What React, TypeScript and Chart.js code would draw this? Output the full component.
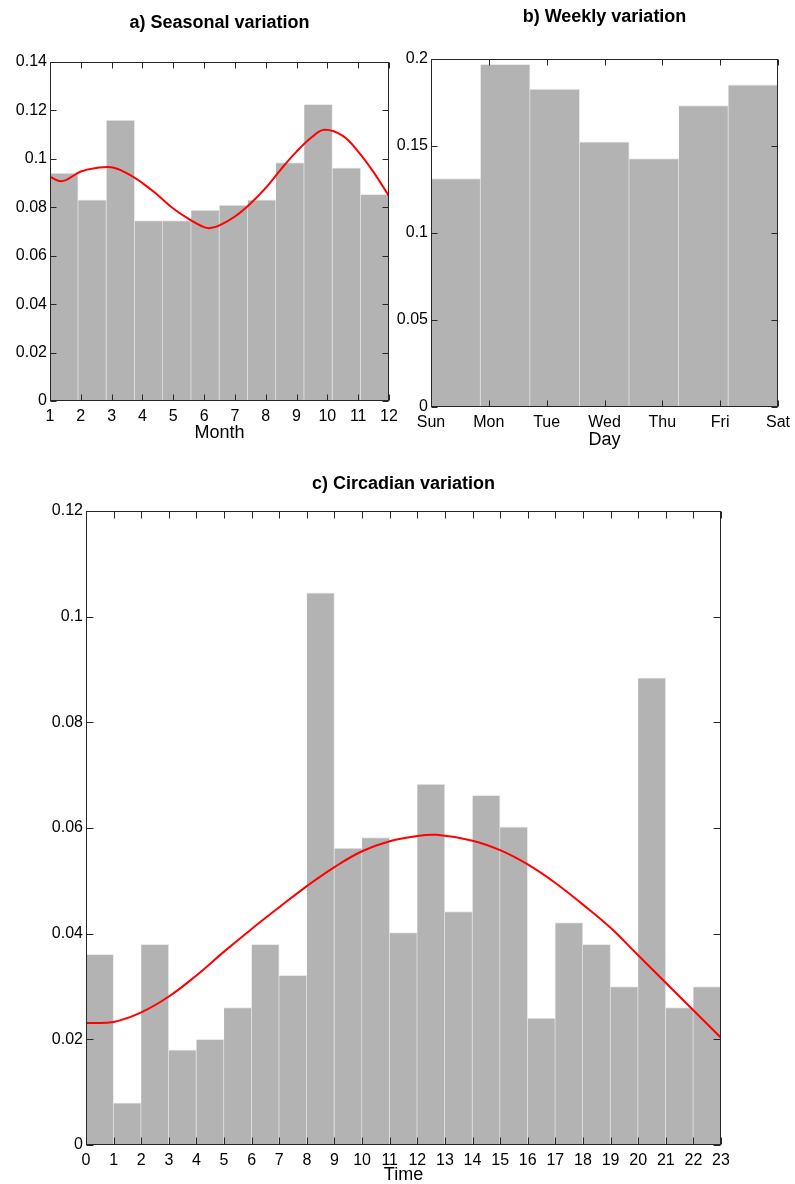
import React, { useEffect, useRef } from 'react';
import { Chart, registerables } from 'chart.js';

Chart.register(...registerables);
Chart.defaults.font.family = "'Liberation Sans', Arial, Helvetica, sans-serif";
Chart.defaults.color = '#000';

// ---------- Data ----------
// a) Seasonal variation: 12 monthly bins spread over the axis range 1..12
const monthRange = [1, 12];
const seasonalBins = [0.0941, 0.0831, 0.116, 0.0745, 0.0745, 0.0788, 0.0809, 0.0831, 0.0985, 0.1225, 0.0963, 0.0853];
const seasonalFitX = [1, 1.4, 2, 2.5, 3, 3.5, 4, 4.5, 5, 5.5, 6, 6.2, 6.5, 7, 7.5, 8, 8.5, 9, 9.5, 9.9, 10.5, 11, 11.5, 12];
const seasonalFitY = [0.0925, 0.0908, 0.0948, 0.0962, 0.0965, 0.094, 0.09, 0.085, 0.0795, 0.0752, 0.0718, 0.0714, 0.0725, 0.0762, 0.0815, 0.088, 0.0958, 0.103, 0.109, 0.112, 0.1095, 0.103, 0.0945, 0.0846];

// b) Weekly variation: 7 bins spread over the axis range 0..6
const dayLabels = ['Sun', 'Mon', 'Tue', 'Wed', 'Thu', 'Fri', 'Sat'];
const dayRange = [0, 6];
const weeklyBins = [0.1313, 0.1969, 0.1827, 0.1524, 0.1428, 0.1733, 0.1852];

// c) Circadian variation: 23 hourly bins over 0..23
const hourRange = [0, 23];
const circadianBins = [0.0361, 0.008, 0.038, 0.018, 0.02, 0.026, 0.038, 0.0321, 0.1045, 0.0562, 0.0582, 0.0402, 0.0683, 0.0442, 0.0662, 0.0602, 0.024, 0.0421, 0.038, 0.03, 0.0884, 0.026, 0.03];
const circadianFitX = [0, 1, 2, 3, 4, 5, 6, 7, 8, 9, 10, 11, 12, 12.7, 14, 15, 16, 17, 18, 19, 20, 21, 22, 23];
const circadianFitY = [0.0231, 0.0233, 0.0251, 0.0281, 0.0321, 0.0366, 0.0409, 0.045, 0.049, 0.0526, 0.0556, 0.0575, 0.0585, 0.0587, 0.0576, 0.0558, 0.0531, 0.0496, 0.0455, 0.0411, 0.0359, 0.0307, 0.0255, 0.0203];

// ---------- Helpers ----------
const binPoints = (vals: number[], range: number[]) => {
  const w = (range[1] - range[0]) / vals.length;
  return vals.map((v, i) => ({ x: range[0] + (i + 0.5) * w, y: v }));
};
const curvePoints = (xs: number[], ys: number[]) => xs.map((x, i) => ({ x, y: ys[i] }));
const fmt = (v: any) => String(parseFloat(Number(v).toFixed(4)));

const frame = {
  id: 'matlabFrame',
  afterDatasetsDraw(chart: any, _a: any, opts: any) {
    const { ctx, chartArea, scales } = chart;
    const L = Math.round(chartArea.left) + 0.5;
    const R = Math.round(chartArea.right) - 0.5;
    const T = Math.round(chartArea.top) + 0.5;
    const B = Math.round(chartArea.bottom) - 0.5;
    const len = opts.tickLen || 6;
    ctx.save();
    ctx.strokeStyle = '#262626';
    ctx.lineWidth = 1;
    ctx.beginPath();
    scales.x.ticks.forEach((t: any) => {
      const px = Math.round(scales.x.getPixelForValue(t.value)) + 0.5;
      ctx.moveTo(px, B); ctx.lineTo(px, B - len);
      ctx.moveTo(px, T); ctx.lineTo(px, T + len);
    });
    scales.y.ticks.forEach((t: any) => {
      const py = Math.round(scales.y.getPixelForValue(t.value)) + 0.5;
      ctx.moveTo(L, py); ctx.lineTo(L + len, py);
      ctx.moveTo(R, py); ctx.lineTo(R - len, py);
    });
    ctx.stroke();
    ctx.strokeRect(L, T, R - L, B - T);
    ctx.restore();
  },
};

type Panel = {
  title: string;
  bins: { x: number; y: number }[];
  curve?: { x: number; y: number }[];
  xRange: number[];
  yMax: number;
  yStep: number;
  xTitle: string;
  xLabel?: (v: number) => string;
  w: number; h: number;
  padRight: number;
  yWidth: number; xHeight: number;
  titleTop: number; titleBottom: number;
  xTitleBottom: number;
  tickLen: number;
};

function makeConfig(p: Panel): any {
  const datasets: any[] = [];
  if (p.curve) {
    datasets.push({
      type: 'line', data: p.curve, borderColor: '#ff0000', borderWidth: 2,
      pointRadius: 0, tension: 0.4, order: 0,
    });
  }
  datasets.push({
    type: 'bar', data: p.bins, backgroundColor: '#b3b3b3', borderColor: '#eaeaea',
    borderWidth: { top: 1, right: 1, left: 0, bottom: 0 }, borderSkipped: false,
    barPercentage: 1, categoryPercentage: 1, order: 1,
  });
  return {
    type: 'bar',
    data: { datasets },
    plugins: [frame],
    options: {
      animation: false, responsive: false, maintainAspectRatio: false, devicePixelRatio: 1,
      layout: { padding: { left: 0, top: 0, right: p.padRight, bottom: 0 } },
      plugins: {
        legend: { display: false },
        tooltip: { enabled: false },
        title: {
          display: true, text: p.title, fullSize: false, color: '#000',
          font: { size: 18, weight: 'bold', lineHeight: 1.2 },
          padding: { top: p.titleTop, bottom: p.titleBottom },
        },
        matlabFrame: { tickLen: p.tickLen },
      },
      scales: {
        x: {
          type: 'linear', min: p.xRange[0], max: p.xRange[1], offset: false,
          grid: { display: false, drawTicks: false }, border: { display: false },
          ticks: {
            stepSize: 1, autoSkip: false, maxRotation: 0, padding: 6, color: '#000',
            font: { size: 16 },
            callback: (v: any) => (p.xLabel ? p.xLabel(v) : String(v)),
          },
          title: {
            display: true, text: p.xTitle, color: '#000',
            font: { size: 18, lineHeight: 1 }, padding: { top: 0, bottom: p.xTitleBottom },
          },
          afterFit: (s: any) => { s.height = p.xHeight; },
        },
        y: {
          type: 'linear', min: 0, max: p.yMax,
          grid: { display: false, drawTicks: false }, border: { display: false },
          ticks: { stepSize: p.yStep, padding: 3, color: '#000', font: { size: 16 }, callback: fmt },
          afterFit: (s: any) => { s.width = p.yWidth; },
        },
      },
    },
  };
}

function ChartBox({ left, top, panel }: { left: number; top: number; panel: Panel }) {
  const ref = useRef<HTMLCanvasElement | null>(null);
  useEffect(() => {
    if (!ref.current) return;
    const chart = new Chart(ref.current, makeConfig(panel));
    return () => chart.destroy();
  }, []);
  return (
    <canvas
      ref={ref}
      width={panel.w}
      height={panel.h}
      style={{ position: 'absolute', left, top, width: panel.w, height: panel.h }}
    />
  );
}

const panelA: Panel = {
  title: 'a) Seasonal variation',
  bins: binPoints(seasonalBins, monthRange),
  curve: curvePoints(seasonalFitX, seasonalFitY),
  xRange: monthRange, yMax: 0.14, yStep: 0.02, xTitle: 'Month',
  w: 420, h: 450, padRight: 31, yWidth: 50, xHeight: 49,
  titleTop: 12, titleBottom: 28.4, xTitleBottom: 8, tickLen: 6,
};

const panelB: Panel = {
  title: 'b) Weekly variation',
  bins: binPoints(weeklyBins, dayRange),
  xRange: dayRange, yMax: 0.2, yStep: 0.05, xTitle: 'Day',
  xLabel: (v: number) => dayLabels[Math.round(v)] ?? '',
  w: 430, h: 460, padRight: 32, yWidth: 51, xHeight: 53,
  titleTop: 6, titleBottom: 31.4, xTitleBottom: 11, tickLen: 6,
};

const panelC: Panel = {
  title: 'c) Circadian variation',
  bins: binPoints(circadianBins, hourRange),
  curve: curvePoints(circadianFitX, circadianFitY),
  xRange: hourRange, yMax: 0.12, yStep: 0.02, xTitle: 'Time',
  w: 795, h: 724, padRight: 74, yWidth: 86, xHeight: 39,
  titleTop: 13.7, titleBottom: 15.7, xTitleBottom: 0, tickLen: 7,
};

export default function App() {
  return (
    <div style={{ position: 'absolute', left: 0, top: 0, width: 795, height: 1184, background: '#fff', overflow: 'hidden' }}>
      <ChartBox left={0} top={0} panel={panelA} />
      <ChartBox left={380} top={0} panel={panelB} />
      <ChartBox left={0} top={460} panel={panelC} />
    </div>
  );
}
